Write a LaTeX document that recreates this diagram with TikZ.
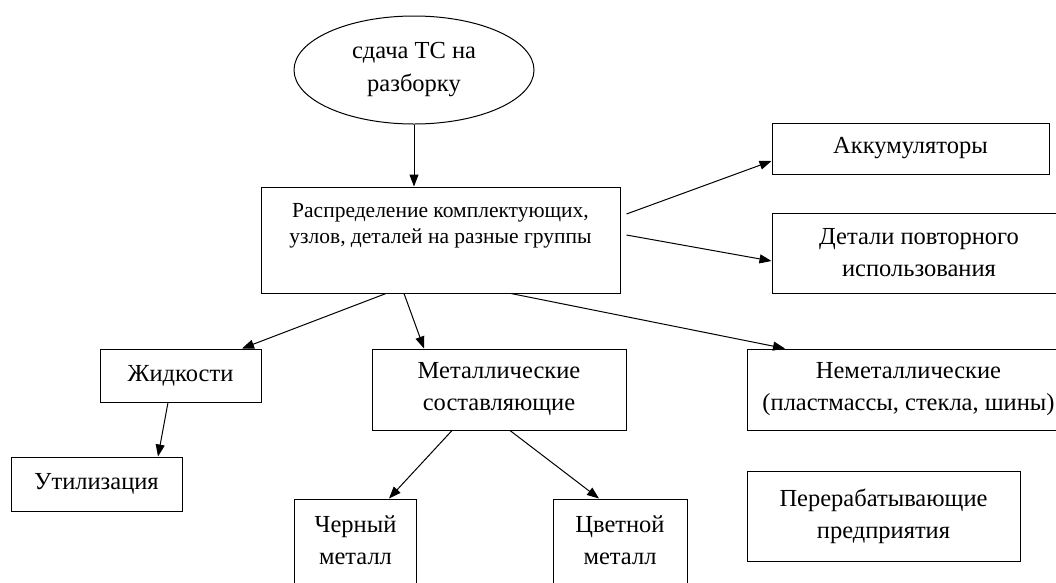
\documentclass[tikz,border=0pt]{standalone}
\usepackage{fontspec}
\setmainfont{Liberation Serif}
\usetikzlibrary{shapes.geometric,arrows.meta}
\tikzset{
    block/.style = {draw, rectangle, align = center, line width = 1pt, inner sep = 0pt,
        font = \fontsize{24.5}{32}\selectfont},
    oval/.style = {draw, ellipse, align = center, line width = 1pt, inner sep = 0pt,
        font = \fontsize{24.5}{33}\selectfont}
}
\begin{document}
\begin{tikzpicture}[x = 1pt, y = -1pt, >={Triangle[length = 12pt, width = 9pt]}]
        \useasboundingbox (0,0) rectangle (1056,582);
        \node[oval, minimum width = 240, minimum height = 108] (sdacha) at (414,70) {сдача ТС на\\разборку};
        \node[block, minimum width = 359, minimum height = 106, font = \fontsize{21.5}{26}\selectfont] (distr) at (440.5,240)
            {Распределение комплектующих,\\узлов, деталей на разные группы\\[8pt]\mbox{}};
        \node[block, minimum width = 277, minimum height = 51] (accum) at (910.5,148.5) {Аккумуляторы};
        \node[block, minimum width = 294, minimum height = 80] (detali) at (919,253) {Детали повторного\\использования};
        \node[block, minimum width = 161, minimum height = 53] (zhid) at (180.5,375.5) {Жидкости};
        \node[block, minimum width = 254, minimum height = 81] (metal) at (499,389.5) {Металлические\\составляющие};
        \node[block, minimum width = 323, minimum height = 81] (nemet) at (908.5,389.5) {Неметаллические\\(пластмассы, стекла, шины)};
        \node[block, minimum width = 171, minimum height = 54] (util) at (96.5,484) {Утилизация};
        \node[block, minimum width = 122, minimum height = 114] (cherny) at (355.5,556) {Черный\\металл\\\mbox{}};
        \node[block, minimum width = 134, minimum height = 114] (tsvet) at (620,556) {Цветной\\металл\\\mbox{}};
        \node[block, minimum width = 273, minimum height = 90] (pererab) at (883.5,516) {Перерабатывающие\\предприятия};
        \begin{scope}[line width = 1pt]
            \draw[->] (sdacha.south) -- (sdacha.south |- distr.north);
            \draw[->] ([xshift = 6pt, yshift = 26pt]distr.east) -- ([yshift = -12.5pt]accum.west);
            \draw[->] ([xshift = 6pt, yshift = 5pt]distr.east) -- ([yshift = -8pt]detali.west);
            \draw[->] ([xshift = -54.5pt]distr.south) -- ([xshift = 61.5pt]zhid.north);
            \draw[->] ([xshift = -36.5pt]distr.south) -- ([xshift = -75pt]metal.north);
            \draw[->] ([xshift = 70.5pt]distr.south) -- ([xshift = -123.5pt]nemet.north);
            \draw[->] ([xshift = -12.5pt]zhid.south) -- ([xshift = 61.5pt]util.north);
            \draw[->] ([xshift = -47pt]metal.south) -- ([xshift = 33.5pt]cherny.north);
            \draw[->] ([xshift = 11pt]metal.south) -- ([xshift = -21pt]tsvet.north);
        \end{scope}
    \end{tikzpicture}
\end{document}
